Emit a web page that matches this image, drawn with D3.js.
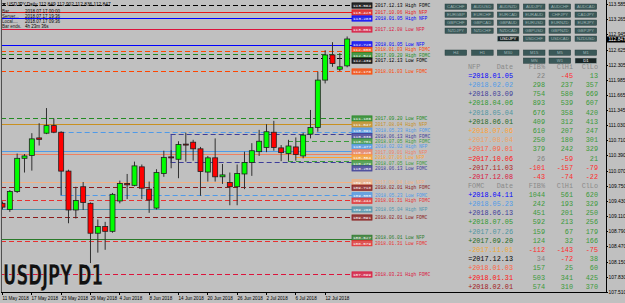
<!DOCTYPE html>
<html><head><meta charset="utf-8">
<script src="https://cdn.jsdelivr.net/npm/d3@7"></script>
<style>body{margin:0;background:#c0c0c0;} svg{display:block;}</style>
</head><body>
<svg id="c" width="625" height="303"></svg>
<script>
// ---------- data ----------
const dates = ["2018-05-11","2018-05-14","2018-05-15","2018-05-16","2018-05-17","2018-05-18","2018-05-21","2018-05-22","2018-05-23","2018-05-24","2018-05-25","2018-05-28","2018-05-29","2018-05-30","2018-05-31","2018-06-01","2018-06-04","2018-06-05","2018-06-06","2018-06-07","2018-06-08","2018-06-11","2018-06-12","2018-06-13","2018-06-14","2018-06-15","2018-06-18","2018-06-19","2018-06-20","2018-06-21","2018-06-22","2018-06-25","2018-06-26","2018-06-27","2018-06-28","2018-06-29","2018-07-02","2018-07-03","2018-07-04","2018-07-05","2018-07-06","2018-07-09","2018-07-10","2018-07-11","2018-07-12","2018-07-13","2018-07-16","2018-07-17"];
const open  = [109.38,109.25,109.63,110.33,110.39,110.76,110.86,111.02,110.88,110.06,109.24,109.73,109.38,108.75,108.89,108.79,109.43,109.80,109.76,110.15,109.68,109.28,110.01,110.36,110.31,110.63,110.67,110.53,110.04,110.34,109.94,109.82,109.73,110.00,110.24,110.47,110.56,110.88,110.55,110.43,110.57,110.38,110.84,110.98,111.98,112.51,112.21,112.28];
const high  = [109.42,109.66,110.43,110.42,110.86,111.07,111.39,111.17,110.90,110.09,109.73,109.83,109.40,109.04,108.99,109.60,109.86,110.00,110.26,110.20,109.84,110.10,110.49,110.50,110.69,110.87,110.72,110.57,110.38,110.75,110.21,110.03,110.20,110.47,110.65,110.93,111.05,111.12,110.61,110.72,110.77,110.87,111.35,112.16,112.61,112.78,112.55,112.90];
const low   = [109.25,109.20,109.60,110.03,110.07,110.60,110.84,110.86,109.55,108.96,109.06,109.24,108.12,108.34,108.40,108.76,109.38,109.47,109.74,109.47,109.18,109.25,109.94,110.12,109.91,110.26,110.28,109.54,109.84,109.84,109.79,109.34,109.34,109.68,109.96,110.38,110.46,110.49,110.27,110.28,110.28,110.33,110.75,110.89,111.91,112.26,112.17,112.25];
const close = [109.30,109.63,110.33,110.38,110.74,110.73,111.02,110.88,110.06,109.24,109.44,109.40,108.75,108.89,108.79,109.57,109.80,109.77,110.17,109.70,109.45,110.03,110.35,110.34,110.62,110.62,110.53,110.05,110.34,109.94,109.98,109.73,110.01,110.24,110.49,110.69,110.89,110.56,110.45,110.59,110.41,110.82,110.98,111.98,112.51,112.33,112.26,112.847];

const priceTicks = ["113.585","113.265","112.945","112.625","112.305","111.985","111.665","111.345","111.030","110.710","110.390","110.070","109.750","109.430","109.110","108.790","108.470","108.150","107.830","107.510"];
const currentPrice = "112.847";
const xTickDates  = ["2018-05-11","2018-05-17","2018-05-23","2018-05-29","2018-06-04","2018-06-08","2018-06-14","2018-06-20","2018-06-26","2018-07-02","2018-07-06","2018-07-12"];
const xTickLabels = ["11 May 2018","17 May 2018","23 May 2018","29 May 2018","4 Jun 2018","8 Jun 2018","14 Jun 2018","20 Jun 2018","26 Jun 2018","2 Jul 2018","6 Jul 2018","12 Jul 2018"];

// level lines (event high/low)
const levelText  = ["2017.12.13 High FOMC","2017.10.06 High NFP","2018.01.05 High NFP","2017.12.08 Low NFP","2018.01.05 Low NFP","2018.01.03 High FOMC","2017.09.20 High FOMC","2017.12.13 Low FOMC","2018.01.03 Low FOMC","2017.09.20 Low FOMC","2017.08.04 High NFP","2018.05.23 High FOMC","2018.06.13 High FOMC","2018.07.05 High FOMC","2018.02.02 High NFP","2017.09.01 High NFP","2018.07.06 Low NFP","2018.07.05 Low FOMC","2018.06.13 Low FOMC","2017.08.04 Low NFP","2018.02.01 High FOMC","2018.05.23 Low FOMC","2018.01.31 High FOMC","2018.05.04 High NFP","2018.02.01 Low FOMC","2018.06.01 Low NFP","2018.01.31 Low FOMC","2018.03.21 High FOMC"];
const levelPrice = [113.564,113.423,113.283,113.051,112.720,112.600,112.524,112.439,112.178,111.186,111.047,110.891,110.836,110.701,110.477,110.420,110.364,110.279,110.258,109.836,109.718,109.555,109.444,109.266,109.091,108.627,108.579,107.899];
const levelColor = ["#000000","#e81818","#0000ff","#dc143c","#0000ff","#ff4500","#228b22","#000000","#ff4500","#228b22","#c89020","#4f9ae8","#3d3d9a","#3a9a3a","#4f9ae8","#f08060","#ffa030","#3a9a3a","#3d3d9a","#f4b080","#8b1a1a","#4f9ae8","#e83030","#4f96b0","#8b1a1a","#2a7a2a","#e83030","#dc143c"];
const levelDash  = [1,0,0,0,0,1,1,1,1,1,0,1,1,1,0,0,0,1,1,0,1,1,1,0,1,0,1,1];
const levelStart = ["2018-05-11","2018-05-11","2018-05-11","2018-05-11","2018-05-11","2018-05-11","2018-05-11","2018-05-11","2018-05-11","2018-05-11","2018-05-11","2018-05-23","2018-06-13","2018-07-05","2018-05-11","2018-05-11","2018-07-06","2018-07-05","2018-06-13","2018-05-11","2018-05-11","2018-05-23","2018-05-11","2018-05-11","2018-05-11","2018-05-11","2018-05-11","2018-05-11"];

// symbol / timeframe buttons
const symbolRows = [["CADCHF","AUDUSD","AUDNZD","AUDJPY","AUDCHF","AUDCAD"],["EURGBP","EURCHF","EURCAD","EURAUD","CHFJPY","CADJPY"],["GBPCHF","GBPCAD","GBPAUD","EURUSD","EURNZD","EURJPY"],["NZDJPY","NZDCHF","NZDCAD","GBPUSD","GBPNZD","GBPJPY"],["","","USDJPY","USDCHF","USDCAD","NZDUSD"]];
const tfRows = [["H4","H1","M30","M15","M5","M1"],["","","","MN","W1","D1"]];
const activeButtons = ["USDJPY","D1"];

// tables
const tableHeader = ["Date","FIB%","ClHi","ClLo"];
const nfpDate  = ["=2018.01.05","+2018.02.02","+2018.03.09","+2018.04.06","+2018.05.04","+2018.06.01","+2018.07.06","+2017.08.04","+2017.09.01","=2017.10.06","-2017.11.03","-2017.12.08"];
const nfpFib   = [22,298,754,893,676,409,610,250,379,26,-101,-43];
const nfpClHi  = [-45,237,580,539,358,312,207,180,242,-59,-157,-74];
const nfpClLo  = [13,357,669,607,420,413,247,301,329,21,-79,-22];
const nfpColor = ["#0000ff","#4f9ae8","#3d3d9a","#2e9a2e","#4f96a0","#1f6a1f","#ffa030","#f0a060","#ff6040","#ff1010","#b22020","#dc143c"];
const fomcDate  = ["+2018.04.11","+2018.05.23","+2018.06.13","+2018.07.05","+2017.07.26","+2017.09.20","-2017.11.01","=2017.12.13","+2018.01.03","+2018.01.31","+2018.02.01","+2018.03.21"];
const fomcFib   = [1044,242,451,592,159,124,-112,34,157,503,574,360];
const fomcClHi  = [561,193,201,213,67,32,-143,-72,25,341,310,180];
const fomcClLo  = [620,329,250,256,179,166,-75,38,60,425,370,250];
const fomcColor = ["#0000ff","#4f9ae8","#3d3d9a","#2e9a2e","#4f96a0","#1f6a1f","#f0a830","#000000","#ff6040","#ff1010","#a01818","#dc143c"];

const titleLine = "USDJPY,Daily  112.849 112.902 112.836 112.847";
const infoLabels = ["Bar......","Server...","Local....","Bar ends."];
const infoValues = ["2018.07.17 00:00","2018.07.17 19:36","2018.07.17 09:36","4h 23m 36s"];

// ---------- drawing ----------
const svg = d3.select("#c");
const W = 625, H = 303;
const plotL = 1, plotR = 606, plotB = 292;
const mono = "'Liberation Mono','DejaVu Sans Mono',monospace";
const sans = "'Liberation Sans',Arial,sans-serif";

svg.append("rect").attr("width", W).attr("height", H).attr("fill", "#c0c0c0");

const y = d3.scaleLinear().domain([107.510, 113.585]).range([plotB, 4]);
const x = d3.scalePoint().domain(dates).range([2, 2 + 7.333 * (dates.length - 1)]);

const clip = svg.append("defs").append("clipPath").attr("id", "pc");
clip.append("rect").attr("x", plotL).attr("y", 0).attr("width", plotR - plotL).attr("height", plotB);
const plot = svg.append("g").attr("clip-path", "url(#pc)");

// level lines
const boxX = 352;
const levels = levelText.map((t, i) => ({t, p: levelPrice[i], c: levelColor[i], d: levelDash[i], s: levelStart[i], ly: Math.round(y(levelPrice[i])) + 0.5}));
plot.selectAll("line.lv").data(levels).join("line")
  .attr("x1", d => d.s === dates[0] ? plotL : x(d.s)).attr("x2", boxX)
  .attr("y1", d => d.ly).attr("y2", d => d.ly)
  .attr("stroke", d => d.c).attr("stroke-width", d => d.d ? 1 : 1.2)
  .attr("stroke-dasharray", d => d.d ? "5,3" : null);

// vertical brackets for events that start inside the view
d3.groups(levels.filter(d => d.s !== dates[0]), d => d.t.slice(0, 10)).forEach(([k, arr]) => {
  if (arr.length < 2) return;
  const ext = d3.extent(arr, d => d.ly);
  plot.append("line").attr("x1", x(arr[0].s) + 0.5).attr("x2", x(arr[0].s) + 0.5)
    .attr("y1", ext[0]).attr("y2", ext[1]).attr("stroke", arr[0].c).attr("stroke-width", 1);
});

// candles
const bars = dates.map((d, i) => ({d, o: open[i], h: high[i], l: low[i], c: close[i]}));
plot.selectAll("line.wick").data(bars).join("line")
  .attr("x1", d => x(d.d) + 0.5).attr("x2", d => x(d.d) + 0.5)
  .attr("y1", d => y(d.h)).attr("y2", d => y(d.l))
  .attr("stroke", "#303030").attr("stroke-width", 1);
plot.selectAll("rect.body").data(bars).join("rect")
  .attr("x", d => x(d.d) - 2).attr("width", 5)
  .attr("y", d => y(Math.max(d.o, d.c))).attr("height", d => Math.max(1, Math.abs(y(d.o) - y(d.c))))
  .attr("fill", d => d.c >= d.o ? "#00ff00" : "#ff0000")
  .attr("stroke", "#202020").attr("stroke-width", 0.8);

// label positions: spread overlapping labels apart
const sorted = levels.slice().sort((a, b) => a.ly - b.ly);
sorted.forEach(d => d.ty = d.ly);
const gap = 5.4;
for (let it = 0; it < 200; it++) {
  for (let i = 1; i < sorted.length; i++) {
    const diff = sorted[i].ty - sorted[i - 1].ty;
    if (diff < gap) { const s = (gap - diff) / 2; sorted[i - 1].ty -= s; sorted[i].ty += s; }
  }
  if (sorted[0].ty < 3) sorted[0].ty = 3;
}
const lg = svg.append("g");
levels.forEach(d => {
  const yy = d.ty;
  lg.append("rect").attr("x", boxX).attr("y", yy - 2.6).attr("width", 20).attr("height", 5.2)
    .attr("fill", d.c).attr("stroke", d.c).attr("stroke-width", 0.8).attr("fill-opacity", 0.75);
  lg.append("text").attr("x", boxX + 10).attr("y", yy + 1.5).attr("text-anchor", "middle")
    .attr("font-family", mono).attr("font-size", 4.3).attr("fill", "#ffffff").text(d.p.toFixed(3));
  lg.append("text").attr("x", 375).attr("y", yy + 1.6)
    .attr("font-family", mono).attr("font-size", 4.6).attr("fill", d.c).text(d.t);
});

// frame
svg.append("line").attr("x1", plotL + 0.5).attr("x2", plotL + 0.5).attr("y1", 0).attr("y2", plotB).attr("stroke", "#505050");
svg.append("line").attr("x1", plotL).attr("x2", plotR).attr("y1", plotB + 0.5).attr("y2", plotB + 0.5).attr("stroke", "#000");
svg.append("line").attr("x1", plotR + 0.5).attr("x2", plotR + 0.5).attr("y1", 0).attr("y2", plotB + 1).attr("stroke", "#000");

// right axis
const ay = svg.append("g");
priceTicks.forEach(t => {
  const yy = Math.round(y(+t)) + 0.5;
  ay.append("line").attr("x1", plotR).attr("x2", plotR + 2).attr("y1", yy).attr("y2", yy).attr("stroke", "#000");
  ay.append("text").attr("x", 608.5).attr("y", yy + 1.7).attr("font-family", sans).attr("font-size", 4.9).attr("fill", "#000").text(t);
});
const cy = Math.round(y(+currentPrice)) + 0.5;
ay.append("rect").attr("x", plotR + 1).attr("y", cy - 3).attr("width", 19).attr("height", 6).attr("fill", "#000");
ay.append("text").attr("x", 608.5).attr("y", cy + 1.7).attr("font-family", sans).attr("font-size", 4.9).attr("fill", "#fff").text(currentPrice);

// x axis
xTickDates.forEach((d, i) => {
  const xx = Math.round(x(d)) + 0.5;
  svg.append("line").attr("x1", xx).attr("x2", xx).attr("y1", plotB).attr("y2", plotB + 3).attr("stroke", "#000");
  svg.append("text").attr("x", xx).attr("y", 299.5).attr("font-family", sans).attr("font-size", 4.6).attr("fill", "#000").text(xTickLabels[i]);
});

// title and info
svg.append("path").attr("d", "M2,3 L6,3 L4,6 Z").attr("fill", "#202020");
svg.append("text").attr("x", 7).attr("y", 6.3).attr("font-family", sans).attr("font-size", 4.8).attr("fill", "#000").text(titleLine);
infoLabels.forEach((t, i) => {
  const yy = 12.5 + i * 5.3;
  svg.append("text").attr("x", 2).attr("y", yy).attr("font-family", sans).attr("font-size", 4.5).attr("fill", "#202020").text(t);
  svg.append("text").attr("x", 25).attr("y", yy).attr("font-family", sans).attr("font-size", 4.5).attr("fill", "#000").text(infoValues[i]);
});

// big label
svg.append("text").attr("x", 3).attr("y", 285).attr("font-family", "'Liberation Sans Narrow','DejaVu Sans Condensed','Liberation Sans',sans-serif")
  .attr("font-weight", "bold").attr("font-size", 29).attr("textLength", 100).attr("lengthAdjust", "spacingAndGlyphs")
  .attr("fill", "#111").attr("stroke", "#e8e8e8").attr("stroke-width", 0.3).text("USDJPY D1");

// buttons
const colX = [445, 471.5, 497.3, 523.3, 549, 575];
const btn = (label, cx, cy) => {
  const act = activeButtons.includes(label);
  svg.append("rect").attr("x", cx).attr("y", cy).attr("width", 21.7).attr("height", 5.3)
    .attr("fill", act ? "#1a2626" : "#3a5858").attr("stroke", act ? "#9ab0b0" : "#2a4040").attr("stroke-width", 0.5);
  svg.append("text").attr("x", cx + 10.85).attr("y", cy + 4).attr("text-anchor", "middle")
    .attr("font-family", sans).attr("font-size", 4.2).attr("fill", act ? "#ffffff" : "#9fb4b4").text(label);
};
symbolRows.forEach((row, r) => row.forEach((s, c) => { if (s) btn(s, colX[c], 4 + r * 8); }));
tfRows.forEach((row, r) => row.forEach((s, c) => { if (s) btn(s, colX[c], 50 + r * 8); }));

// tables
const tbl = svg.append("g").attr("clip-path", "url(#pc)");
const numColor = v => v > 0 ? "#3a9a3a" : (v < 0 ? "#ff2a2a" : "#808080");
function drawTable(title, y0, dts, fib, hi, lo, cols) {
  const fs = 6.8;
  tbl.append("text").attr("x", 468).attr("y", y0).attr("font-family", mono).attr("font-size", fs).attr("fill", "#8a8a8a").text(title);
  const hx = [513, 545, 573, 598];
  tableHeader.forEach((h, i) => tbl.append("text").attr("x", hx[i]).attr("y", y0).attr("text-anchor", "end")
    .attr("font-family", mono).attr("font-size", fs).attr("fill", "#8a8a8a").text(h));
  dts.forEach((d, i) => {
    const yy = y0 + 9.2 * (i + 1);
    tbl.append("text").attr("x", 513).attr("y", yy).attr("text-anchor", "end").attr("font-family", mono).attr("font-size", fs).attr("fill", cols[i]).text(d);
    const fc = d[0] === "=" ? "#808080" : numColor(fib[i]);
    tbl.append("text").attr("x", 545).attr("y", yy).attr("text-anchor", "end").attr("font-family", mono).attr("font-size", fs).attr("fill", fc).text(fib[i]);
    tbl.append("text").attr("x", 573).attr("y", yy).attr("text-anchor", "end").attr("font-family", mono).attr("font-size", fs).attr("fill", numColor(hi[i])).text(hi[i]);
    tbl.append("text").attr("x", 598).attr("y", yy).attr("text-anchor", "end").attr("font-family", mono).attr("font-size", fs).attr("fill", numColor(lo[i])).text(lo[i]);
  });
}
drawTable("NFP", 68.5, nfpDate, nfpFib, nfpClHi, nfpClLo, nfpColor);
drawTable("FOMC", 187.5, fomcDate, fomcFib, fomcClHi, fomcClLo, fomcColor);
</script>
</body></html>
